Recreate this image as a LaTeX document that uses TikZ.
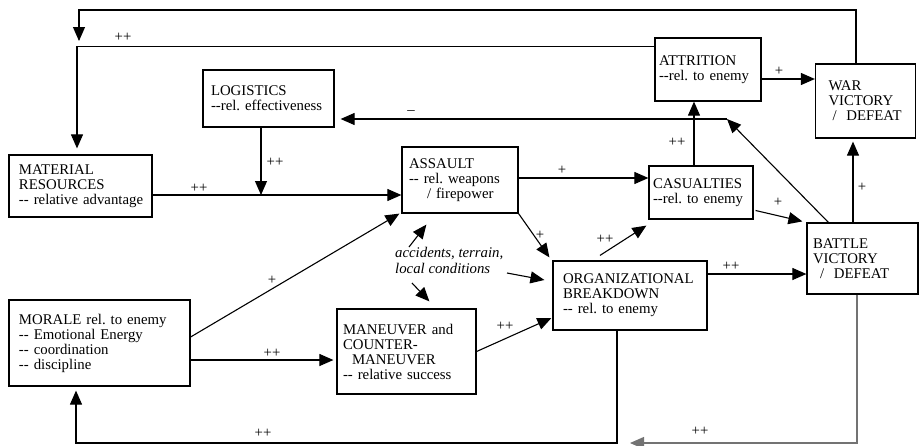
\documentclass[tikz,border=0pt]{standalone}
\usepackage{fontspec}
\setmainfont{Liberation Serif}
\usetikzlibrary{arrows.meta,calc}
\newcommand{\dhy}{-\kern0pt-}
\begin{document}
\begin{tikzpicture}[x=1pt,y=-1pt,
  every node/.style={font=\fontsize{14.8}{15}\selectfont},
  box/.style={draw, line width=1.2pt, align=left, inner ysep=0pt},
  lab/.style={inner sep=0pt},
  conn/.style={line width=1.1pt, -{Triangle[length=14pt,width=12pt]}},
  plain/.style={line width=1.1pt}]
\useasboundingbox (0,0) rectangle (919,445);

% boxes
\node[box, inner xsep=8pt, text width=115pt, minimum height=57pt] (log) at (268.5,98.5) {LOGISTICS\\\mbox{\dhy rel.~effectiveness}};
\node[box, inner xsep=10pt, text width=123pt, minimum height=62pt] (mat) at (80.5,186) {MATERIAL\\RESOURCES\\\mbox{\dhy~relative~advantage}};
\node[box, inner xsep=7pt, text width=102pt, minimum height=66pt] (asl) at (460,180) {ASSAULT\\\mbox{\dhy~rel.~weapons}\\\hspace*{18pt}/~firepower};
\node[box, inner xsep=4pt, text width=98pt, minimum height=63pt] (att) at (708,69.5) {ATTRITION\\\mbox{\dhy rel.~to~enemy}};
\node[box, inner xsep=13pt, text width=74pt, minimum height=74pt] (war) at (865.5,101) {WAR\\VICTORY\\\mbox{\hspace*{4pt}/~~DEFEAT}};
\node[box, inner xsep=4pt, text width=96pt, minimum height=53pt] (cas) at (701,192.5) {CASUALTIES\\\mbox{\dhy rel.~to~enemy}};
\node[box, inner xsep=6pt, text width=99pt, minimum height=71pt] (bat) at (862.5,258.5) {BATTLE\\VICTORY\\\mbox{\hspace*{7pt}/~~DEFEAT}};
\node[box, inner xsep=10pt, text width=134pt, minimum height=69pt] (org) at (630,295.5) {ORGANIZATIONAL\\BREAKDOWN\\\mbox{\dhy~rel.~to~enemy}};
\node[box, inner xsep=10pt, text width=161pt, minimum height=86pt] (mor) at (99.5,343) {\mbox{MORALE~rel.~to~enemy}\\\mbox{\dhy~Emotional~Energy}\\\dhy~coordination\\\dhy~discipline};
\node[box, inner xsep=6pt, text width=127pt, minimum height=85pt] (man) at (406.5,351.5) {\mbox{MANEUVER~and}\\COUNTER-\\\hspace*{9pt}MANEUVER\\\mbox{\dhy~relative~success}};
\node[inner sep=0pt, align=left, anchor=north west, font=\fontsize{14.8}{16}\selectfont\itshape] (acc) at (395,247) {accidents, terrain,\\local conditions};

% coordinates
\coordinate (tl) at (79,10);
\coordinate (topin) at (79,41);
\coordinate (jn) at (727,119);
\coordinate (mj) at (261,195);
\coordinate (bll) at (76,443);
\coordinate (bri) at (630,443);

% connectors
\draw[conn] ([xshift=-9.5pt]war.north) |- (tl) -- (topin);
\draw[conn] ([yshift=-9pt]att.north west) -| ([xshift=-3.5pt,yshift=6pt]mat.north);
\draw[conn] (jn) -- ([xshift=6pt,yshift=-20.5pt]log.east);
\draw[conn] ([xshift=22pt]bat.north west) -- (jn);
\draw[conn] ([xshift=-7pt]cas.north) -- ([xshift=-14pt]att.south);
\draw[conn] ([yshift=-9pt]mat.east) -- ([yshift=-15pt]asl.west);
\draw[conn] (log.south -| mj) -- (mj);
\draw[conn] ([yshift=6pt]mor.east) -- ([xshift=-2pt]asl.south west);
\draw[conn] ([yshift=-17pt]mor.east) -- ([xshift=-3pt,yshift=-8.5pt]man.west);
\draw[conn] ([xshift=14pt]acc.north west) -- ([xshift=25pt,yshift=-11pt]asl.south west);
\draw[conn] ([xshift=17pt,yshift=-36pt]acc.north west) -- ([xshift=93pt,yshift=7pt]man.north west);
\draw[conn] ([xshift=112pt,yshift=-26pt]acc.north west) -- ([xshift=-8pt,yshift=15.5pt]org.west);
\draw[conn] (asl.south east) -- ([xshift=-3pt,yshift=3pt]org.north west);
\draw[conn] ([yshift=2pt]asl.east) -- ([yshift=14.5pt]cas.west);
\draw[conn] ([xshift=-30pt,yshift=5pt]org.north) -- ([xshift=-2pt,yshift=-6pt]cas.south west);
\draw[conn] ([xshift=2pt,yshift=-18pt]cas.east) -- ([xshift=-4pt,yshift=1pt]bat.north west);
\draw[conn] ([yshift=21.5pt]org.east) -- ([yshift=-15.5pt]bat.west);
\draw[conn] ([xshift=-9.5pt]bat.north) -- ([xshift=-12.5pt,yshift=-3pt]war.south);
\draw[conn] ([yshift=-9.5pt]att.east) -- ([yshift=22pt]war.west);
\draw[conn] (man.east) -- ([xshift=-1pt,yshift=-22.5pt]org.west);
\draw[conn] ([xshift=-13pt]org.south) |- (bll) -- ([xshift=-23.5pt,yshift=-4pt]mor.south);
\draw[conn, color=black!55] ([xshift=-5.5pt]bat.south) |- (bri);

% labels
\node[lab] (l1) at (123,37) {++};
\node[lab] (l2) at (411,113) {--};
\node[lab] (l3) at (677,142) {++};
\node[lab] (l4) at (199,188) {++};
\node[lab] (l5) at (275,162) {++};
\node[lab] (l6) at (272,280) {+};
\node[lab] (l7) at (272,353) {++};
\node[lab] (l8) at (540,235) {+};
\node[lab] (l9) at (562,170) {+};
\node[lab] (l10) at (605,239) {++};
\node[lab] (l11) at (778,202) {+};
\node[lab] (l12) at (731,266) {++};
\node[lab] (l13) at (862,187) {+};
\node[lab] (l14) at (779,71) {+};
\node[lab] (l15) at (263,433) {++};
\node[lab] (l16) at (700,431) {++};
\node[lab] (l17) at (505,326) {++};
\end{tikzpicture}
\end{document}
